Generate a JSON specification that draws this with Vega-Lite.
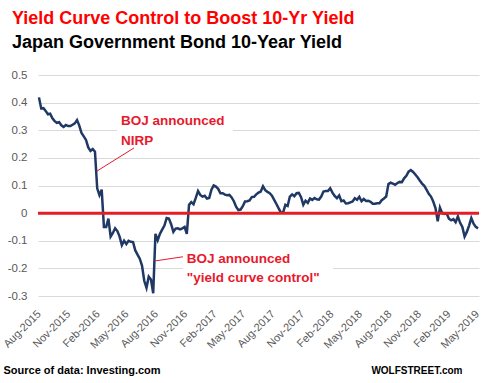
{
  "$schema": "https://vega.github.io/schema/vega-lite/v6.json",
  "autosize": {"type": "none"},
  "padding": {"left": 38, "top": 75, "right": 6, "bottom": 87},
  "width": 441,
  "height": 221,
  "background": "white",
  "config": {
    "view": {"stroke": null}
  },
  "resolve": {"axis": {"x": "independent", "y": "independent"}},
  "title": {
    "text": "Yield Curve Control to Boost 10-Yr Yield",
    "subtitle": "Japan Government Bond 10-Year Yield",
    "anchor": "start",
    "frame": "group",
    "dx": -26,
    "offset": 17,
    "font": "Liberation Sans",
    "fontSize": 18,
    "fontWeight": "bold",
    "color": "#ff0000",
    "subtitleFont": "Liberation Sans",
    "subtitleFontSize": 18,
    "subtitleFontWeight": "bold",
    "subtitleColor": "#000000",
    "subtitlePadding": 6
  },
  "data": {"values": [
    {"d":"2015-08-04","v":0.419},{"d":"2015-08-11","v":0.379},{"d":"2015-08-18","v":0.38},{"d":"2015-08-25","v":0.37},
    {"d":"2015-09-01","v":0.358},{"d":"2015-09-08","v":0.36},{"d":"2015-09-15","v":0.343},{"d":"2015-09-22","v":0.333},{"d":"2015-09-29","v":0.327},
    {"d":"2015-10-06","v":0.329},{"d":"2015-10-13","v":0.318},{"d":"2015-10-20","v":0.312},{"d":"2015-10-27","v":0.319},
    {"d":"2015-11-03","v":0.315},{"d":"2015-11-10","v":0.315},{"d":"2015-11-17","v":0.32},{"d":"2015-11-24","v":0.325},
    {"d":"2015-12-01","v":0.337},{"d":"2015-12-08","v":0.317},{"d":"2015-12-15","v":0.29},{"d":"2015-12-22","v":0.278},{"d":"2015-12-29","v":0.265},
    {"d":"2016-01-05","v":0.238},{"d":"2016-01-12","v":0.225},{"d":"2016-01-19","v":0.232},{"d":"2016-01-26","v":0.222},
    {"d":"2016-02-02","v":0.09},{"d":"2016-02-09","v":0.065},{"d":"2016-02-16","v":0.085},{"d":"2016-02-23","v":-0.05},
    {"d":"2016-03-01","v":-0.05},{"d":"2016-03-08","v":-0.02},{"d":"2016-03-15","v":-0.085},{"d":"2016-03-22","v":-0.072},{"d":"2016-03-29","v":-0.055},
    {"d":"2016-04-05","v":-0.065},{"d":"2016-04-12","v":-0.085},{"d":"2016-04-19","v":-0.116},{"d":"2016-04-26","v":-0.1},
    {"d":"2016-05-03","v":-0.112},{"d":"2016-05-10","v":-0.1},{"d":"2016-05-17","v":-0.104},{"d":"2016-05-24","v":-0.105},{"d":"2016-05-31","v":-0.135},
    {"d":"2016-06-07","v":-0.15},{"d":"2016-06-14","v":-0.165},{"d":"2016-06-21","v":-0.19},{"d":"2016-06-28","v":-0.245},
    {"d":"2016-07-05","v":-0.27},{"d":"2016-07-12","v":-0.23},{"d":"2016-07-19","v":-0.24},{"d":"2016-07-26","v":-0.29},
    {"d":"2016-08-02","v":-0.075},{"d":"2016-08-09","v":-0.098},{"d":"2016-08-16","v":-0.075},{"d":"2016-08-23","v":-0.06},{"d":"2016-08-30","v":-0.045},
    {"d":"2016-09-06","v":-0.018},{"d":"2016-09-13","v":-0.02},{"d":"2016-09-20","v":-0.04},{"d":"2016-09-27","v":-0.068},
    {"d":"2016-10-04","v":-0.056},{"d":"2016-10-11","v":-0.055},{"d":"2016-10-18","v":-0.059},{"d":"2016-10-25","v":-0.055},
    {"d":"2016-11-01","v":-0.05},{"d":"2016-11-08","v":-0.075},{"d":"2016-11-15","v":0.03},{"d":"2016-11-22","v":0.04},{"d":"2016-11-29","v":0.032},
    {"d":"2016-12-06","v":0.055},{"d":"2016-12-13","v":0.08},{"d":"2016-12-20","v":0.066},{"d":"2016-12-27","v":0.06},
    {"d":"2017-01-03","v":0.063},{"d":"2017-01-10","v":0.053},{"d":"2017-01-17","v":0.055},{"d":"2017-01-24","v":0.085},{"d":"2017-01-31","v":0.1},
    {"d":"2017-02-07","v":0.096},{"d":"2017-02-14","v":0.088},{"d":"2017-02-21","v":0.072},{"d":"2017-02-28","v":0.072},
    {"d":"2017-03-07","v":0.067},{"d":"2017-03-14","v":0.065},{"d":"2017-03-21","v":0.066},{"d":"2017-03-28","v":0.057},
    {"d":"2017-04-04","v":0.043},{"d":"2017-04-11","v":0.023},{"d":"2017-04-18","v":0.011},{"d":"2017-04-25","v":0.013},
    {"d":"2017-05-02","v":0.025},{"d":"2017-05-09","v":0.042},{"d":"2017-05-16","v":0.043},{"d":"2017-05-23","v":0.046},{"d":"2017-05-30","v":0.058},
    {"d":"2017-06-06","v":0.059},{"d":"2017-06-13","v":0.068},{"d":"2017-06-20","v":0.074},{"d":"2017-06-27","v":0.078},
    {"d":"2017-07-04","v":0.097},{"d":"2017-07-11","v":0.083},{"d":"2017-07-18","v":0.077},{"d":"2017-07-25","v":0.072},
    {"d":"2017-08-01","v":0.063},{"d":"2017-08-08","v":0.048},{"d":"2017-08-15","v":0.033},{"d":"2017-08-22","v":0.017},{"d":"2017-08-29","v":0.002},
    {"d":"2017-09-05","v":0.003},{"d":"2017-09-12","v":0.03},{"d":"2017-09-19","v":0.026},{"d":"2017-09-26","v":0.06},
    {"d":"2017-10-03","v":0.068},{"d":"2017-10-10","v":0.061},{"d":"2017-10-17","v":0.072},{"d":"2017-10-24","v":0.073},{"d":"2017-10-31","v":0.058},
    {"d":"2017-11-07","v":0.03},{"d":"2017-11-14","v":0.045},{"d":"2017-11-21","v":0.037},{"d":"2017-11-28","v":0.053},
    {"d":"2017-12-05","v":0.048},{"d":"2017-12-12","v":0.055},{"d":"2017-12-19","v":0.05},{"d":"2017-12-26","v":0.049},
    {"d":"2018-01-02","v":0.06},{"d":"2018-01-09","v":0.078},{"d":"2018-01-16","v":0.08},{"d":"2018-01-23","v":0.08},{"d":"2018-01-30","v":0.09},
    {"d":"2018-02-06","v":0.074},{"d":"2018-02-13","v":0.062},{"d":"2018-02-20","v":0.054},{"d":"2018-02-27","v":0.064},
    {"d":"2018-03-06","v":0.043},{"d":"2018-03-13","v":0.046},{"d":"2018-03-20","v":0.035},{"d":"2018-03-27","v":0.036},
    {"d":"2018-04-03","v":0.039},{"d":"2018-04-10","v":0.042},{"d":"2018-04-17","v":0.054},{"d":"2018-04-24","v":0.048},
    {"d":"2018-05-01","v":0.059},{"d":"2018-05-08","v":0.043},{"d":"2018-05-15","v":0.051},{"d":"2018-05-22","v":0.044},{"d":"2018-05-29","v":0.045},
    {"d":"2018-06-05","v":0.041},{"d":"2018-06-12","v":0.034},{"d":"2018-06-19","v":0.034},{"d":"2018-06-26","v":0.036},
    {"d":"2018-07-03","v":0.036},{"d":"2018-07-10","v":0.047},{"d":"2018-07-17","v":0.053},{"d":"2018-07-24","v":0.06},{"d":"2018-07-31","v":0.105},
    {"d":"2018-08-07","v":0.11},{"d":"2018-08-14","v":0.107},{"d":"2018-08-21","v":0.103},{"d":"2018-08-28","v":0.109},
    {"d":"2018-09-04","v":0.113},{"d":"2018-09-11","v":0.112},{"d":"2018-09-18","v":0.126},{"d":"2018-09-25","v":0.135},
    {"d":"2018-10-02","v":0.15},{"d":"2018-10-09","v":0.156},{"d":"2018-10-16","v":0.149},{"d":"2018-10-23","v":0.14},{"d":"2018-10-30","v":0.13},
    {"d":"2018-11-06","v":0.118},{"d":"2018-11-13","v":0.107},{"d":"2018-11-20","v":0.099},{"d":"2018-11-27","v":0.085},
    {"d":"2018-12-04","v":0.07},{"d":"2018-12-11","v":0.06},{"d":"2018-12-18","v":0.042},{"d":"2018-12-25","v":0.018},
    {"d":"2019-01-01","v":-0.03},{"d":"2019-01-08","v":0.02},{"d":"2019-01-15","v":0.0},{"d":"2019-01-22","v":-0.003},{"d":"2019-01-29","v":-0.001},
    {"d":"2019-02-05","v":-0.02},{"d":"2019-02-12","v":-0.026},{"d":"2019-02-19","v":-0.022},{"d":"2019-02-26","v":-0.033},
    {"d":"2019-03-05","v":-0.012},{"d":"2019-03-12","v":-0.035},{"d":"2019-03-19","v":-0.05},{"d":"2019-03-26","v":-0.085},
    {"d":"2019-04-02","v":-0.068},{"d":"2019-04-09","v":-0.045},{"d":"2019-04-16","v":-0.018},{"d":"2019-04-23","v":-0.038},{"d":"2019-04-30","v":-0.05},
    {"d":"2019-05-07","v":-0.055}
  ]},
  "layer": [
    {
      "mark": {"type": "line", "color": "#1f3864", "strokeWidth": 2.5},
      "encoding": {
        "x": {
          "field": "d", "type": "temporal",
          "scale": {"type": "utc", "domain": [{"year": 2015, "month": "Aug", "date": 1, "utc": true}, {"year": 2019, "month": "May", "date": 10, "utc": true}]},
          "axis": {
            "values": [
              {"year": 2015, "month": "Aug", "date": 1, "utc": true},
              {"year": 2015, "month": "Nov", "date": 1, "utc": true},
              {"year": 2016, "month": "Feb", "date": 1, "utc": true},
              {"year": 2016, "month": "May", "date": 1, "utc": true},
              {"year": 2016, "month": "Aug", "date": 1, "utc": true},
              {"year": 2016, "month": "Nov", "date": 1, "utc": true},
              {"year": 2017, "month": "Feb", "date": 1, "utc": true},
              {"year": 2017, "month": "May", "date": 1, "utc": true},
              {"year": 2017, "month": "Aug", "date": 1, "utc": true},
              {"year": 2017, "month": "Nov", "date": 1, "utc": true},
              {"year": 2018, "month": "Feb", "date": 1, "utc": true},
              {"year": 2018, "month": "May", "date": 1, "utc": true},
              {"year": 2018, "month": "Aug", "date": 1, "utc": true},
              {"year": 2018, "month": "Nov", "date": 1, "utc": true},
              {"year": 2019, "month": "Feb", "date": 1, "utc": true},
              {"year": 2019, "month": "May", "date": 1, "utc": true}
            ],
            "labelExpr": "utcFormat(datum.value, '%b-%Y')",
            "labelOverlap": false,
            "labelFlush": false,
            "labelAngle": -45,
            "labelAlign": "right",
            "labelBaseline": "middle",
            "labelPadding": 16,
            "labelOffset": 1,
            "labelFont": "Liberation Sans",
            "labelFontSize": 11,
            "labelColor": "#595959",
            "ticks": false,
            "domain": false,
            "grid": false,
            "title": "Source of data: Investing.com",
            "titleX": -35,
            "titleY": 77,
            "titleAlign": "left",
            "titleAngle": 0,
            "titleBaseline": "alphabetic",
            "titleFont": "Liberation Sans",
            "titleFontSize": 11,
            "titleFontWeight": "bold",
            "titleColor": "#000000"
          }
        },
        "y": {
          "field": "v", "type": "quantitative",
          "scale": {"domain": [-0.3, 0.5], "nice": false, "zero": false},
          "axis": {
            "values": [-0.3, -0.2, -0.1, 0, 0.1, 0.2, 0.3, 0.4, 0.5],
            "labelExpr": "abs(datum.value) < 0.001 ? '0' : (datum.value < 0 ? '-' + format(-datum.value, '.1f') : format(datum.value, '.1f'))",
            "labelOverlap": false,
            "labelFlush": false,
            "grid": true,
            "gridColor": "#d9d9d9",
            "gridWidth": 1,
            "domain": false,
            "ticks": false,
            "labelPadding": 11,
            "labelFont": "Liberation Sans",
            "labelFontSize": 11.5,
            "labelColor": "#595959",
            "title": "WOLFSTREET.com",
            "titleAngle": 0,
            "titleX": 424,
            "titleY": 298,
            "titleAlign": "right",
            "titleBaseline": "alphabetic",
            "titleFont": "Liberation Sans",
            "titleFontSize": 10,
            "titleFontWeight": "bold",
            "titleColor": "#000000"
          }
        }
      }
    },
    {
      "data": {"values": [{}]},
      "mark": {"type": "rect", "color": "white"},
      "encoding": {
        "x": {"datum": {"year": 2016, "month": "Apr", "date": 4, "utc": true}, "type": "temporal", "axis": null},
        "x2": {"datum": {"year": 2017, "month": "Apr", "date": 1, "utc": true}},
        "y": {"datum": 0.37, "type": "quantitative", "axis": null},
        "y2": {"datum": 0.23}
      }
    },
    {
      "data": {"values": [{}]},
      "mark": {"type": "rect", "color": "white"},
      "encoding": {
        "x": {"datum": {"year": 2016, "month": "Oct", "date": 27, "utc": true}, "type": "temporal", "axis": null},
        "x2": {"datum": {"year": 2018, "month": "Feb", "date": 8, "utc": true}},
        "y": {"datum": -0.125, "type": "quantitative", "axis": null},
        "y2": {"datum": -0.27}
      }
    },
    {
      "data": {"values": [{}]},
      "mark": {"type": "rule", "color": "#e31e24", "strokeWidth": 3},
      "encoding": {"y": {"datum": 0, "type": "quantitative", "axis": null}}
    },
    {
      "data": {"values": [{}]},
      "mark": {"type": "rule", "color": "#e8192c", "strokeWidth": 1},
      "encoding": {
        "x": {"datum": {"year": 2016, "month": "Feb", "date": 1, "utc": true}, "type": "temporal", "axis": null},
        "x2": {"datum": {"year": 2016, "month": "May", "date": 27, "utc": true}},
        "y": {"datum": 0.152, "type": "quantitative", "axis": null},
        "y2": {"datum": 0.236}
      }
    },
    {
      "data": {"values": [{}]},
      "mark": {"type": "rule", "color": "#e8192c", "strokeWidth": 1},
      "encoding": {
        "x": {"datum": {"year": 2016, "month": "Aug", "date": 1, "utc": true}, "type": "temporal", "axis": null},
        "x2": {"datum": {"year": 2016, "month": "Oct", "date": 27, "utc": true}},
        "y": {"datum": -0.173, "type": "quantitative", "axis": null},
        "y2": {"datum": -0.158}
      }
    },
    {
      "data": {"values": [{}]},
      "mark": {"type": "text", "text": ["BOJ announced", "NIRP"], "lineHeight": 20, "align": "left", "baseline": "alphabetic", "font": "Liberation Sans", "fontSize": 13.5, "fontWeight": "bold", "color": "#e8192c"},
      "encoding": {
        "x": {"datum": {"year": 2016, "month": "Apr", "date": 16, "utc": true}, "type": "temporal", "axis": null},
        "y": {"datum": 0.319, "type": "quantitative", "axis": null}
      }
    },
    {
      "data": {"values": [{}]},
      "mark": {"type": "text", "text": ["BOJ announced", "\"yield curve control\""], "lineHeight": 18.5, "align": "left", "baseline": "alphabetic", "font": "Liberation Sans", "fontSize": 13.5, "fontWeight": "bold", "color": "#e8192c"},
      "encoding": {
        "x": {"datum": {"year": 2016, "month": "Nov", "date": 8, "utc": true}, "type": "temporal", "axis": null},
        "y": {"datum": -0.182, "type": "quantitative", "axis": null}
      }
    }
  ]
}
